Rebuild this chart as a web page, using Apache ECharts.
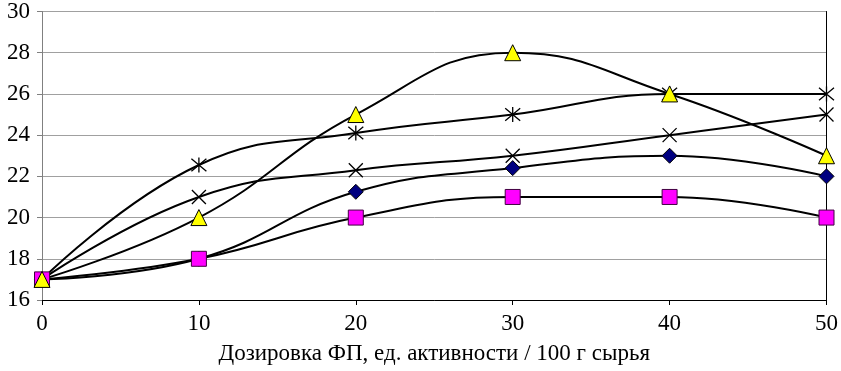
<!DOCTYPE html>
<html>
<head>
<meta charset="utf-8">
<script src="https://cdn.jsdelivr.net/npm/echarts@6/dist/echarts.min.js"></script>
<style>
  html, body { margin: 0; padding: 0; background: #fff; }
  #main { width: 841px; height: 371px; }
</style>
</head>
<body>
<div id="main"></div>
<script>
// дозировка ФП
var doses = [0, 10, 20, 30, 40, 50];
// ряды данных
var diamondVals = [17, 18, 21.25, 22.4, 23, 22];
var squareVals = [17, 18, 20, 21, 21, 20];
var triangleVals = [17, 20, 25, 28, 26, 23];
var starVals = [17, 22.55, 24.1, 25, 26, 26];
var crossVals = [17, 21, 22.3, 23, 24, 25];

function pairs(vals) {
  var out = [];
  for (let i = 0; i < doses.length; i++) {
    out.push([doses[i], vals[i]]);
  }
  return out;
}

var myChart = echarts.init(document.getElementById('main'));
var font = 'Liberation Serif, Times New Roman, serif';

function makeSeries(vals, symbol, size, fill, border, bw) {
  return {
    type: 'line',
    data: pairs(vals),
    smooth: 0.45,
    symbol: symbol,
    symbolSize: size,
    showAllSymbol: true,
    lineStyle: { color: '#000', width: 2 },
    itemStyle: { color: fill, borderColor: border, borderWidth: bw, opacity: 1 },
    emphasis: { disabled: true },
    z: 2
  };
}

var starPath = 'path://M0,0L10,10M10,0L0,10M5,-1L5,11';
var crossPath = 'path://M0,0L10,10M10,0L0,10';

let option = {
  animation: false,
  grid: { left: 42, right: 11, top: 8, bottom: 71 },
  xAxis: {
    type: 'value',
    min: 0, max: 50, interval: 10,
    name: 'Дозировка ФП, ед. активности / 100 г сырья',
    nameLocation: 'middle',
    nameGap: 42,
    nameTextStyle: { fontFamily: font, fontSize: 23, color: '#000' },
    axisLine: { show: true, lineStyle: { color: '#000', width: 1 } },
    axisTick: { show: true, length: 5, lineStyle: { color: '#000' } },
    axisLabel: { fontFamily: font, fontSize: 23, color: '#000', margin: 12 },
    splitLine: { show: false }
  },
  yAxis: [{
    type: 'value',
    min: 16, max: 30, interval: 2,
    axisLine: { show: true, lineStyle: { color: '#808080', width: 1 } },
    axisTick: { show: true, length: 5, lineStyle: { color: '#808080' } },
    axisLabel: { fontFamily: font, fontSize: 23, color: '#000', margin: 12 },
    splitLine: { show: true, lineStyle: { color: '#a0a0a0', width: 1 } }
  }, {
    type: 'value',
    min: 16, max: 30, interval: 2,
    position: 'right',
    axisLine: { show: true, lineStyle: { color: '#000', width: 1 } },
    axisTick: { show: false },
    axisLabel: { show: false },
    splitLine: { show: false }
  }],
  series: [
    makeSeries(crossVals, crossPath, 14, 'transparent', '#000', 1.3),
    makeSeries(starVals, starPath, 15, 'transparent', '#000', 1.3),
    makeSeries(diamondVals, 'diamond', 15, '#000080', '#000', 1),
    makeSeries(squareVals, 'rect', 15, '#ff00ff', '#400040', 1),
    makeSeries(triangleVals, 'triangle', 16, '#ffff00', '#000', 1)
  ]
};
myChart.setOption(option);
</script>
</body>
</html>
